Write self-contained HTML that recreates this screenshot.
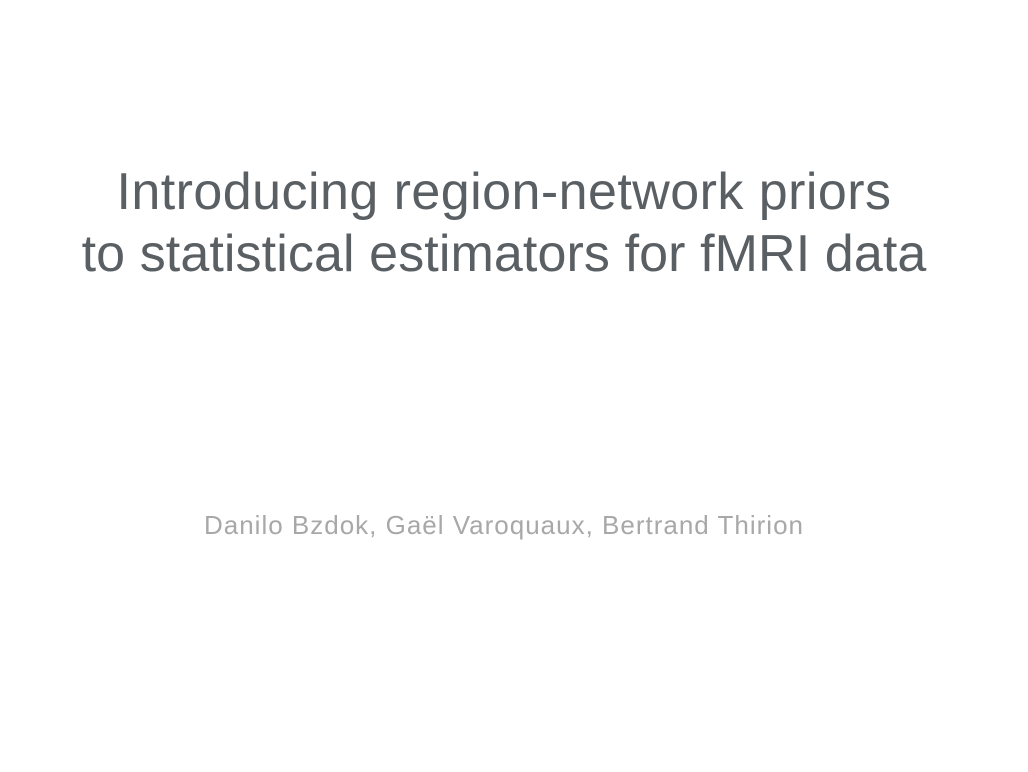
<!DOCTYPE html>
<html>
<head>
<meta charset="utf-8">
<style>
  html, body { margin: 0; padding: 0; background: #ffffff; }
  body { width: 1028px; height: 772px; position: relative; overflow: hidden;
         font-family: "Liberation Sans", "DejaVu Sans", sans-serif; }
  .title { position: absolute; left: 0; width: 1008px; text-align: center;
           color: #5a5f63; font-size: 52px; white-space: nowrap; }
  .authors { position: absolute; left: 0; width: 1008px; top: 510px; text-align: center;
             color: #a8a8a8; font-size: 26px; white-space: nowrap; letter-spacing: 1px; }
</style>
</head>
<body>
  <div class="title" style="top:162px; letter-spacing:0.45px;">Introducing region-network priors</div>
  <div class="title" style="top:224px; letter-spacing:0.1px;">to statistical estimators for fMRI data</div>
  <div class="authors">Danilo Bzdok, Gaël Varoquaux, Bertrand Thirion</div>
</body>
</html>
